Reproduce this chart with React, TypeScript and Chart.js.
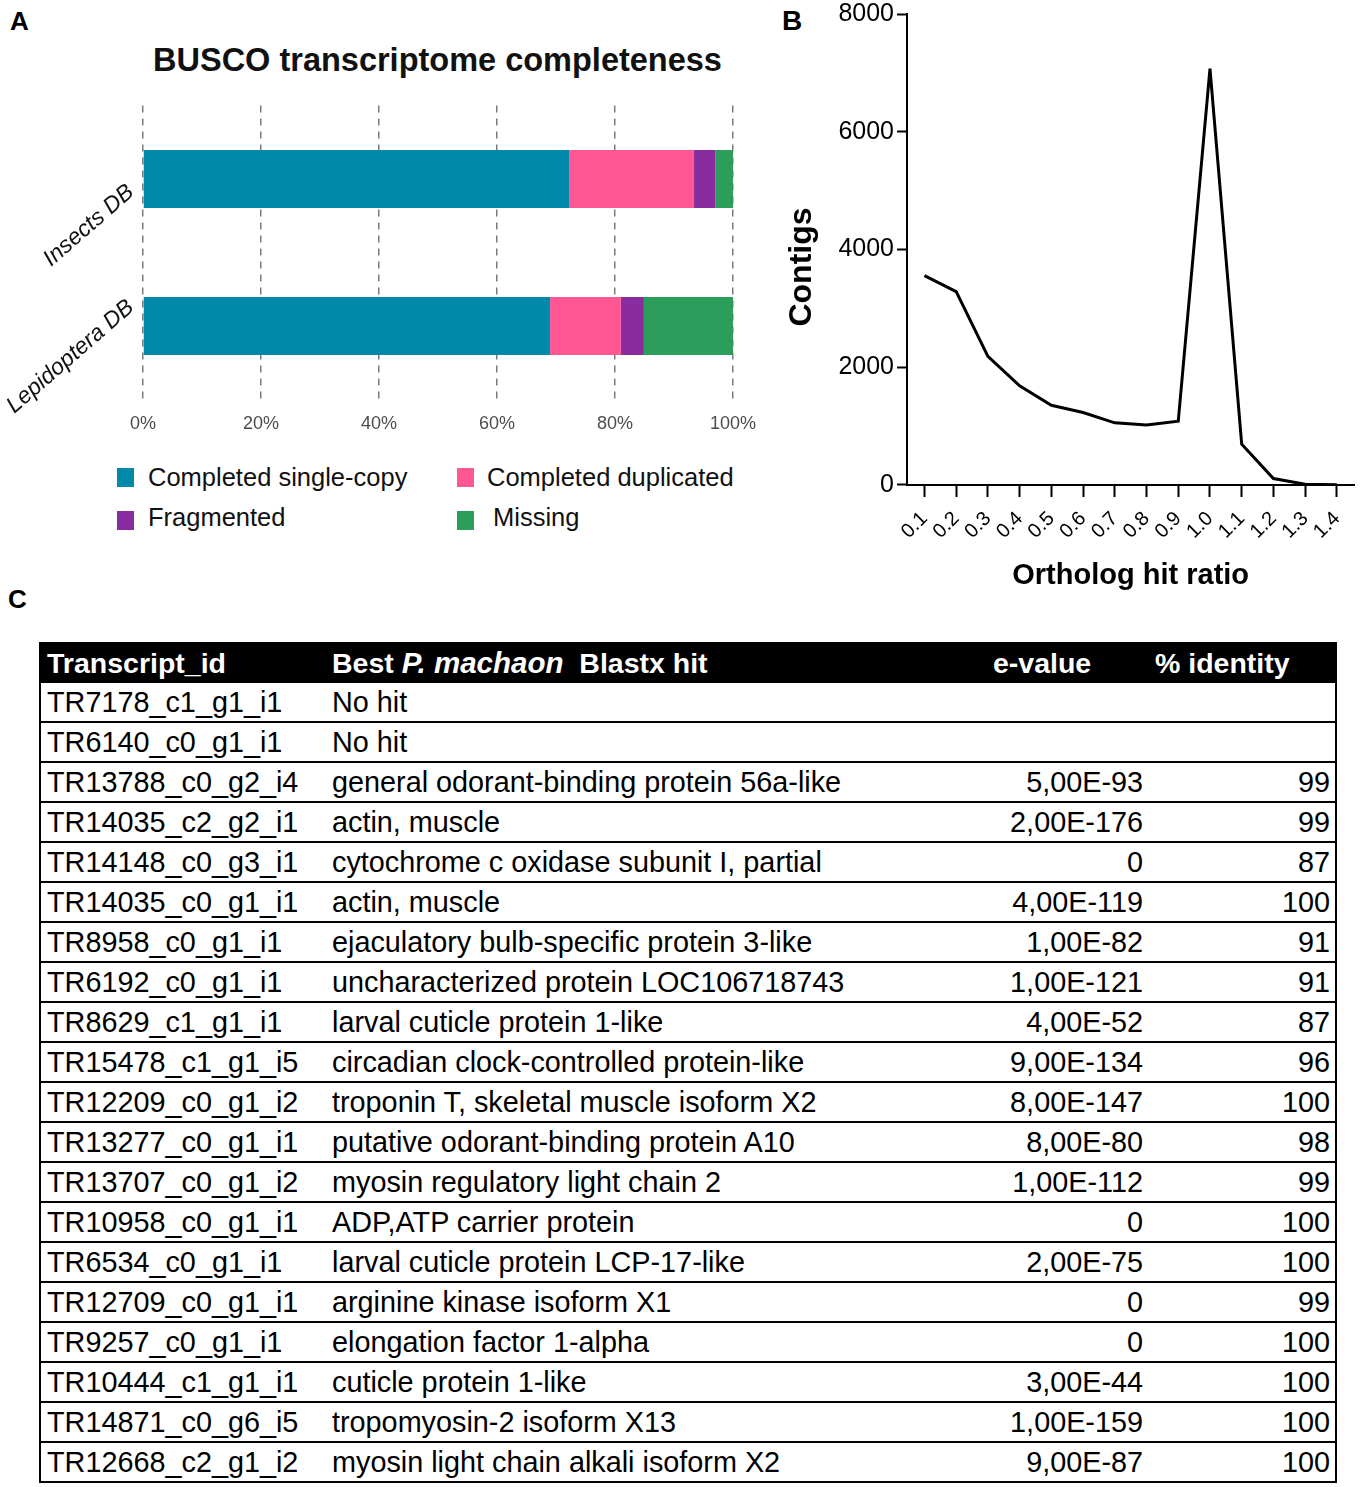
import React, { useEffect, useRef } from "react";
import { Chart, registerables } from "chart.js";

Chart.register(...registerables);

const FONT = '"Liberation Sans", Arial, Helvetica, sans-serif';

// ---------- Panel A: BUSCO completeness (percent) ----------
const buscoCategories = ["Insects DB", "Lepidoptera DB"];
const buscoSeries = ["Completed single-copy", "Completed duplicated", "Fragmented", "Missing"];
const singleCopy = [72.3, 69.0];
const duplicated = [21.1, 12.0];
const fragmented = [3.6, 3.9];
const missing = [3.0, 15.1];
const buscoColors = ["#0189ab", "#fe5794", "#892ca0", "#2c9d5a"];
const percentTicks = [0, 20, 40, 60, 80, 100];

// ---------- Panel B: ortholog hit ratio ----------
const hitRatio = [0.1, 0.2, 0.3, 0.4, 0.5, 0.6, 0.7, 0.8, 0.9, 1.0, 1.1, 1.2, 1.3, 1.4];
const contigs = [3556, 3284, 2183, 1684, 1354, 1231, 1056, 1017, 1082, 7074, 693, 110, 13, 2];
const contigTicks = [0, 2000, 4000, 6000, 8000];

// ---------- Panel C: table ----------
const transcriptIds = [
  "TR7178_c1_g1_i1", "TR6140_c0_g1_i1", "TR13788_c0_g2_i4", "TR14035_c2_g2_i1", "TR14148_c0_g3_i1",
  "TR14035_c0_g1_i1", "TR8958_c0_g1_i1", "TR6192_c0_g1_i1", "TR8629_c1_g1_i1", "TR15478_c1_g1_i5",
  "TR12209_c0_g1_i2", "TR13277_c0_g1_i1", "TR13707_c0_g1_i2", "TR10958_c0_g1_i1", "TR6534_c0_g1_i1",
  "TR12709_c0_g1_i1", "TR9257_c0_g1_i1", "TR10444_c1_g1_i1", "TR14871_c0_g6_i5", "TR12668_c2_g1_i2",
];
const blastHits = [
  "No hit", "No hit", "general odorant-binding protein 56a-like", "actin, muscle",
  "cytochrome c oxidase subunit I, partial", "actin, muscle", "ejaculatory bulb-specific protein 3-like",
  "uncharacterized protein LOC106718743", "larval cuticle protein 1-like", "circadian clock-controlled protein-like",
  "troponin T, skeletal muscle isoform X2", "putative odorant-binding protein A10", "myosin regulatory light chain 2",
  "ADP,ATP carrier protein", "larval cuticle protein LCP-17-like", "arginine kinase isoform X1",
  "elongation factor 1-alpha", "cuticle protein 1-like", "tropomyosin-2 isoform X13", "myosin light chain alkali isoform X2",
];
const eValues = [
  "", "", "5,00E-93", "2,00E-176", "0", "4,00E-119", "1,00E-82", "1,00E-121", "4,00E-52", "9,00E-134",
  "8,00E-147", "8,00E-80", "1,00E-112", "0", "2,00E-75", "0", "0", "3,00E-44", "1,00E-159", "9,00E-87",
];
const identities = [
  "", "", "99", "99", "87", "100", "91", "91", "87", "96",
  "100", "98", "99", "100", "100", "99", "100", "100", "100", "100",
];

function BuscoChart() {
  const ref = useRef<HTMLCanvasElement>(null);
  useEffect(() => {
    const values = [singleCopy, duplicated, fragmented, missing];
    const angle = (41 * Math.PI) / 180;
    const diagLabels = {
      id: "diagLabels",
      afterDraw(chart: any) {
        const ctx = chart.ctx;
        const ys = chart.scales.y;
        ctx.save();
        ctx.font = `italic 23px ${FONT}`;
        ctx.fillStyle = "#111";
        ctx.textAlign = "right";
        ctx.textBaseline = "alphabetic";
        buscoCategories.forEach((c, i) => {
          const w = ctx.measureText(c).width;
          const yp = ys.getPixelForValue(i);
          const ex = chart.chartArea.left - 8;
          const ey = yp + 88 - w * Math.sin(angle);
          ctx.save();
          ctx.translate(ex, ey);
          ctx.rotate(-angle);
          ctx.fillText(c, 0, 0);
          ctx.restore();
        });
        ctx.restore();
      },
    };
    const chart = new Chart(ref.current!, {
      type: "bar",
      data: {
        labels: buscoCategories,
        datasets: buscoSeries.map((name, i) => ({
          label: name,
          data: values[i],
          backgroundColor: buscoColors[i],
          borderWidth: 0,
          barPercentage: 0.395,
          categoryPercentage: 1,
        })),
      },
      options: {
        indexAxis: "y",
        responsive: false,
        animation: false,
        devicePixelRatio: 1,
        layout: { padding: { left: 143, right: 27, top: 105.5, bottom: 10.9 } },
        plugins: { legend: { display: false }, tooltip: { enabled: false }, title: { display: false } },
        scales: {
          x: {
            type: "linear",
            stacked: true,
            min: 0,
            max: 100,
            afterBuildTicks: (s: any) => {
              s.ticks = percentTicks.map((v) => ({ value: v }));
            },
            ticks: {
              callback: (v: any) => `${v}%`,
              color: "#4d4d4d",
              padding: 14,
              maxRotation: 0,
              font: { family: FONT, size: 18 },
            },
            grid: { color: "#7a7a7a", lineWidth: 1.5, drawTicks: false },
            border: { display: false, dash: [7, 6] },
          },
          y: { type: "category", stacked: true, display: false },
        },
      } as any,
      plugins: [diagLabels],
    });
    return () => chart.destroy();
  }, []);
  return (
    <canvas
      ref={ref}
      width={770}
      height={460}
      style={{ position: "absolute", left: 0, top: 0, width: 770, height: 460 }}
    />
  );
}

function OrthologChart() {
  const ref = useRef<HTMLCanvasElement>(null);
  useEffect(() => {
    const chart = new Chart(ref.current!, {
      type: "line",
      data: {
        datasets: [
          {
            label: "Contigs",
            data: hitRatio.map((x, i) => ({ x, y: contigs[i] })),
            borderColor: "#000",
            borderWidth: 3,
            pointRadius: 0,
            fill: false,
            tension: 0,
          },
        ],
      },
      options: {
        responsive: false,
        animation: false,
        devicePixelRatio: 1,
        layout: { padding: { left: 65.4, right: 4, top: 16, bottom: 8.6 } },
        plugins: { legend: { display: false }, tooltip: { enabled: false } },
        scales: {
          x: {
            type: "linear",
            min: 0.045,
            max: 1.455,
            afterBuildTicks: (s: any) => {
              s.ticks = hitRatio.map((v) => ({ value: v }));
            },
            ticks: {
              autoSkip: false,
              minRotation: 45,
              maxRotation: 45,
              padding: 10,
              color: "#000",
              font: { family: FONT, size: 20 },
              callback: (v: any) => Number(v).toFixed(1),
            },
            grid: { drawOnChartArea: false, drawTicks: true, tickLength: 12, tickWidth: 2, tickColor: "#000" },
            border: { display: true, color: "#000", width: 2 },
            title: {
              display: true,
              text: "Ortholog hit ratio",
              color: "#000",
              font: { family: FONT, size: 29, weight: "bold" },
              padding: { top: 5, bottom: 8 },
            },
          },
          y: {
            type: "linear",
            min: 0,
            max: 8000,
            afterBuildTicks: (s: any) => {
              s.ticks = contigTicks.map((v) => ({ value: v }));
            },
            ticks: {
              padding: 3,
              color: "#000",
              font: { family: FONT, size: 25 },
              callback: (v: any) => String(v),
            },
            grid: { drawOnChartArea: false, drawTicks: true, tickLength: 10, tickWidth: 2, tickColor: "#000" },
            border: { display: true, color: "#000", width: 2 },
            title: { display: false },
          },
        },
      } as any,
    });
    return () => chart.destroy();
  }, []);
  return (
    <canvas
      ref={ref}
      width={594}
      height={614}
      style={{ position: "absolute", left: 770, top: -4, width: 594, height: 614 }}
    />
  );
}

function Legend() {
  const pos = [
    { sx: 117, tx: 148, row: 0 },
    { sx: 457, tx: 487, row: 0 },
    { sx: 117, tx: 148, row: 1 },
    { sx: 457, tx: 493, row: 1 },
  ];
  return (
    <>
      {buscoSeries.map((name, i) => {
        const p = pos[i];
        const sqTop = p.row === 0 ? 468 : 511;
        const txtTop = p.row === 0 ? 465 : 505;
        return (
          <React.Fragment key={name}>
            <div
              style={{ position: "absolute", left: p.sx, top: sqTop, width: 17, height: 19, background: buscoColors[i] }}
            />
            <div
              style={{
                position: "absolute",
                left: p.tx,
                top: txtTop,
                fontSize: 25.5,
                lineHeight: "25px",
                color: "#111",
                whiteSpace: "nowrap",
              }}
            >
              {name}
            </div>
          </React.Fragment>
        );
      })}
    </>
  );
}

function BlastTable() {
  const cell = (extra: React.CSSProperties): React.CSSProperties => ({
    position: "absolute",
    top: 5,
    lineHeight: "28px",
    whiteSpace: "nowrap",
    ...extra,
  });
  return (
    <div
      style={{
        position: "absolute",
        left: 39,
        top: 642,
        width: 1298,
        boxSizing: "border-box",
        borderLeft: "2px solid #000",
        borderRight: "2px solid #000",
        fontSize: 28.8,
      }}
    >
      <div style={{ position: "relative", height: 41, background: "#000", color: "#fff", fontWeight: "bold", fontSize: 28.5 }}>
        <span style={cell({ left: 6, top: 7 })}>Transcript_id</span>
        <span style={cell({ left: 291, top: 7 })}>
          Best <i style={{ fontSize: 29.5 }}>P. machaon</i>&nbsp; Blastx hit
        </span>
        <span style={cell({ left: 952, top: 7 })}>e-value</span>
        <span style={cell({ left: 1114, top: 7 })}>% identity</span>
      </div>
      {transcriptIds.map((id, i) => (
        <div
          key={i}
          style={{
            position: "relative",
            height: 40,
            boxSizing: "border-box",
            borderBottom: "2px solid #000",
            color: "#000",
          }}
        >
          <span style={cell({ left: 6 })}>{id}</span>
          <span style={cell({ left: 291 })}>{blastHits[i]}</span>
          <span style={cell({ right: 192 })}>{eValues[i]}</span>
          <span style={cell({ right: 5 })}>{identities[i]}</span>
        </div>
      ))}
    </div>
  );
}

export default function App() {
  return (
    <div
      style={{
        position: "absolute",
        left: 0,
        top: 0,
        width: 1364,
        height: 1487,
        background: "#fff",
        fontFamily: FONT,
        overflow: "hidden",
      }}
    >
      <div style={{ position: "absolute", left: 10, top: 8, fontSize: 26, lineHeight: "26px", fontWeight: "bold" }}>A</div>
      <div style={{ position: "absolute", left: 782, top: 7, fontSize: 28, lineHeight: "28px", fontWeight: "bold" }}>B</div>
      <div style={{ position: "absolute", left: 8, top: 586, fontSize: 26, lineHeight: "26px", fontWeight: "bold" }}>C</div>
      <div
        style={{
          position: "absolute",
          left: 0,
          width: 875,
          top: 44,
          textAlign: "center",
          fontSize: 32.5,
          lineHeight: "32px",
          fontWeight: "bold",
          color: "#111",
        }}
      >
        BUSCO transcriptome completeness
      </div>
      <BuscoChart />
      <Legend />
      <OrthologChart />
      <div
        style={{
          position: "absolute",
          left: 800 - 100,
          top: 267 - 20,
          width: 200,
          height: 40,
          lineHeight: "40px",
          textAlign: "center",
          fontSize: 32,
          fontWeight: "bold",
          color: "#000",
          transform: "rotate(-90deg)",
        }}
      >
        Contigs
      </div>
      <BlastTable />
    </div>
  );
}
